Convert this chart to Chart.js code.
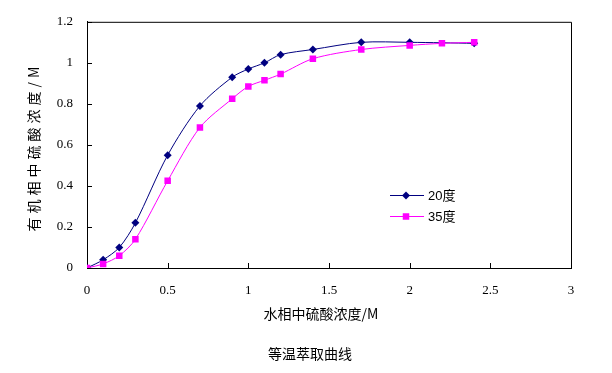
<!DOCTYPE html>
<html>
<head>
<meta charset="utf-8">
<script src="https://cdn.jsdelivr.net/npm/chart.js@4/dist/chart.umd.min.js"></script>
<style>
  html, body { margin: 0; padding: 0; background: #fff; }
  #wrap { width: 612px; height: 373px; }
</style>
</head>
<body>
<div id="wrap"><canvas id="c" width="612" height="373"></canvas></div>
<script>
// ---- data ----
const x20 = [0, 0.1, 0.2, 0.3, 0.5, 0.7, 0.9, 1.0, 1.1, 1.2, 1.4, 1.7, 2.0, 2.4];
const y20 = [0, 0.04, 0.10, 0.22, 0.55, 0.79, 0.93, 0.97, 1.0, 1.04, 1.065, 1.10, 1.10, 1.095];
const x35 = [0, 0.1, 0.2, 0.3, 0.5, 0.7, 0.9, 1.0, 1.1, 1.2, 1.4, 1.7, 2.0, 2.2, 2.4];
const y35 = [0, 0.02, 0.06, 0.14, 0.425, 0.685, 0.825, 0.885, 0.915, 0.945, 1.02, 1.065, 1.085, 1.095, 1.10];
const seriesLabels = ['20度', '35度'];
const xTitle = '水相中硫酸浓度/M';
const yTitle = '有机相中硫酸浓度/M';
const chartTitle = '等温萃取曲线';
const xTickMin = 0, xTickMax = 3, xTickStep = 0.5;
const yTickMin = 0, yTickMax = 1.2, yTickStep = 0.2;

const toPts = (xs, ys) => xs.map((x, i) => ({x: x, y: ys[i]}));
const fmtTick = v => String(Math.round(v * 10) / 10);

const CJK = '"Noto Sans CJK SC"';
const tickFont = {family: '"Liberation Serif", ' + CJK, size: 13};

const bgPlugin = {
  id: 'bg',
  beforeDraw(chart) {
    const ctx = chart.ctx;
    ctx.save();
    ctx.fillStyle = '#fff';
    ctx.fillRect(0, 0, chart.width, chart.height);
    ctx.restore();
  }
};

const framePlugin = {
  id: 'frame',
  beforeDatasetsDraw(chart) {
    const {ctx, chartArea: a, scales} = chart;
    ctx.save();
    ctx.strokeStyle = '#000';
    ctx.lineWidth = 1;
    ctx.beginPath();
    ctx.moveTo(a.left, a.top + 0.5);
    ctx.lineTo(a.right + 0.5, a.top + 0.5);
    ctx.lineTo(a.right + 0.5, a.bottom);
    ctx.stroke();
    // inside tick marks
    ctx.beginPath();
    scales.x.ticks.forEach(t => {
      const px = Math.round(scales.x.getPixelForValue(t.value)) + 0.5;
      ctx.moveTo(px, a.bottom);
      ctx.lineTo(px, a.bottom - 5);
    });
    scales.y.ticks.forEach(t => {
      const py = Math.round(scales.y.getPixelForValue(t.value)) + 0.5;
      ctx.moveTo(a.left, py);
      ctx.lineTo(a.left + 5, py);
    });
    ctx.stroke();
    ctx.restore();
  }
};

const titlesPlugin = {
  id: 'titles',
  afterDraw(chart) {
    const ctx = chart.ctx;
    ctx.save();
    ctx.fillStyle = '#000';
    ctx.textAlign = 'center';
    ctx.textBaseline = 'middle';
    ctx.font = '14px ' + CJK;
    ctx.fillText(xTitle, 321, 314);
    ctx.fillText(chartTitle, 310, 354);
    // y axis title, vertical with letter spacing
    ctx.translate(34, 147);
    ctx.rotate(-Math.PI / 2);
    if ('letterSpacing' in ctx) ctx.letterSpacing = '4px';
    ctx.fillText(yTitle, 0, 0);
    ctx.restore();
  }
};

const legendPlugin = {
  id: 'customLegend',
  afterDraw(chart) {
    const ctx = chart.ctx;
    const rows = [195, 216];
    ctx.save();
    chart.data.datasets.forEach((ds) => {
      const idx = seriesLabels.indexOf(ds.label);
      const y = rows[idx];
      ctx.strokeStyle = ds.borderColor;
      ctx.lineWidth = 1;
      ctx.beginPath();
      ctx.moveTo(390, y + 0.5);
      ctx.lineTo(424, y + 0.5);
      ctx.stroke();
      ctx.fillStyle = ds.pointBackgroundColor;
      Chart.helpers.drawPoint(ctx, {
        pointStyle: ds.pointStyle, radius: ds.pointRadius, rotation: 0, borderWidth: 0
      }, 406, y + 0.5);
      ctx.fillStyle = '#000';
      ctx.font = '13px "Liberation Sans", ' + CJK;
      ctx.textAlign = 'left';
      ctx.textBaseline = 'middle';
      ctx.fillText(ds.label, 428, y + 1);
    });
    ctx.restore();
  }
};

new Chart(document.getElementById('c'), {
  type: 'line',
  data: {
    datasets: [
      {
        label: seriesLabels[0],
        data: toPts(x20, y20),
        borderColor: '#000080',
        backgroundColor: '#000080',
        pointBackgroundColor: '#000080',
        pointBorderColor: '#000080',
        pointStyle: 'rectRot',
        pointRadius: 4,
        pointBorderWidth: 0,
        borderWidth: 1,
        tension: 0.3,
        fill: false,
        order: 2
      },
      {
        label: seriesLabels[1],
        data: toPts(x35, y35),
        borderColor: '#FF00FF',
        backgroundColor: '#FF00FF',
        pointBackgroundColor: '#FF00FF',
        pointBorderColor: '#FF00FF',
        pointStyle: 'rect',
        pointRadius: 4.6,
        pointBorderWidth: 0,
        borderWidth: 1,
        tension: 0.3,
        fill: false,
        order: 1
      }
    ]
  },
  options: {
    responsive: false,
    animation: false,
    devicePixelRatio: 1,
    layout: {padding: {top: 18, right: 41, left: 0, bottom: 0}},
    plugins: {
      legend: {display: false},
      tooltip: {enabled: false},
      title: {display: false}
    },
    scales: {
      x: {
        type: 'linear',
        min: xTickMin, max: xTickMax,
        afterFit(s) { s.height = 105; },
        ticks: {stepSize: xTickStep, color: '#000', font: tickFont, padding: 15, maxRotation: 0, callback: fmtTick},
        grid: {display: false, drawTicks: false},
        border: {display: true, color: '#000', width: 1}
      },
      y: {
        type: 'linear',
        min: yTickMin, max: yTickMax,
        afterFit(s) { s.width = 87; },
        ticks: {stepSize: yTickStep, color: '#000', font: tickFont, padding: 14, callback: fmtTick},
        grid: {display: false, drawTicks: false},
        border: {display: true, color: '#000', width: 1}
      }
    }
  },
  plugins: [bgPlugin, framePlugin, titlesPlugin, legendPlugin]
});
</script>
</body>
</html>
